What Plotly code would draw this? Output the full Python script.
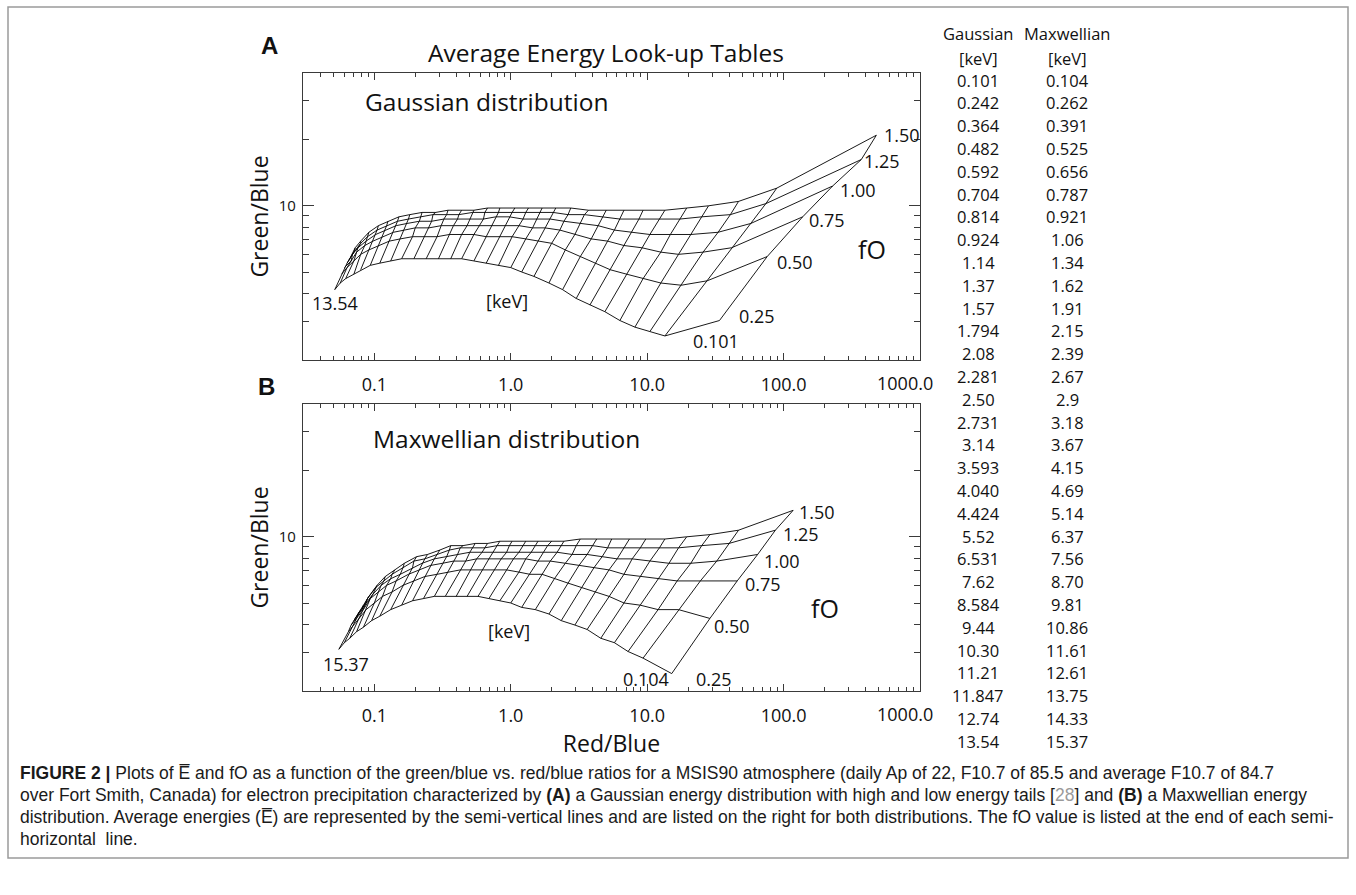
import numpy as np
import plotly.graph_objects as go

W, H = 1356, 895
FONT = "Open Sans"

# ---------------- data ----------------
fO_labels = ["0.25", "0.50", "0.75", "1.00", "1.25", "1.50"]

gauss_keV = ["0.101", "0.242", "0.364", "0.482", "0.592", "0.704", "0.814", "0.924", "1.14", "1.37",
             "1.57", "1.794", "2.08", "2.281", "2.50", "2.731", "3.14", "3.593", "4.040", "4.424",
             "5.52", "6.531", "7.62", "8.584", "9.44", "10.30", "11.21", "11.847", "12.74", "13.54"]
maxw_keV = ["0.104", "0.262", "0.391", "0.525", "0.656", "0.787", "0.921", "1.06", "1.34", "1.62",
            "1.91", "2.15", "2.39", "2.67", "2.9", "3.18", "3.67", "4.15", "4.69", "5.14",
            "6.37", "7.56", "8.70", "9.81", "10.86", "11.61", "12.61", "13.75", "14.33", "15.37"]

x_tick_vals = [0.1, 1, 10, 100, 1000]
x_tick_text = ["0.1", "1.0", "10.0", "100.0", "1000.0"]

# Mesh nodes: log10(Red/Blue) and log10(Green/Blue) along each fO curve,
# ordered from the highest average energy (left end) to the lowest (right end).
# Panel A: Gaussian distribution
A_lrb_025 = [-1.29, -1.25, -1.21, -1.15, -1.10, -1.03, -0.96, -0.88, -0.80, -0.71, -0.62, -0.53, -0.44, -0.36, -0.27,
             -0.18, -0.09, 0.00, 0.08, 0.17, 0.28, 0.38, 0.48, 0.58, 0.69, 0.80, 0.91, 1.02, 1.13, 1.53]
A_lgb_025 = [0.62, 0.65, 0.67, 0.69, 0.71, 0.73, 0.74, 0.75, 0.76, 0.76, 0.76, 0.76, 0.76, 0.76, 0.75,
             0.74, 0.73, 0.72, 0.70, 0.68, 0.65, 0.62, 0.58, 0.55, 0.52, 0.48, 0.45, 0.43, 0.41, 0.48]
A_lrb_050 = [-1.24, -1.20, -1.15, -1.10, -1.04, -0.97, -0.89, -0.81, -0.72, -0.63, -0.54, -0.45, -0.36, -0.27, -0.18,
             -0.08, 0.01, 0.11, 0.20, 0.30, 0.40, 0.51, 0.62, 0.73, 0.85, 0.97, 1.10, 1.25, 1.44, 1.88]
A_lgb_050 = [0.69, 0.72, 0.75, 0.78, 0.80, 0.82, 0.84, 0.85, 0.86, 0.86, 0.86, 0.87, 0.87, 0.87, 0.86,
             0.86, 0.86, 0.85, 0.84, 0.83, 0.80, 0.77, 0.74, 0.71, 0.69, 0.67, 0.65, 0.64, 0.66, 0.77]
A_lrb_075 = [-1.22, -1.17, -1.13, -1.07, -1.01, -0.94, -0.86, -0.78, -0.70, -0.60, -0.51, -0.42, -0.32, -0.23, -0.14,
             -0.04, 0.06, 0.16, 0.25, 0.36, 0.47, 0.59, 0.71, 0.83, 0.96, 1.10, 1.23, 1.41, 1.62, 2.14]
A_lgb_075 = [0.72, 0.75, 0.79, 0.82, 0.84, 0.86, 0.88, 0.89, 0.90, 0.90, 0.91, 0.91, 0.91, 0.91, 0.91,
             0.91, 0.91, 0.90, 0.90, 0.89, 0.87, 0.85, 0.84, 0.82, 0.81, 0.79, 0.78, 0.79, 0.81, 0.95]
A_lrb_100 = [-1.20, -1.16, -1.12, -1.06, -0.99, -0.92, -0.84, -0.76, -0.67, -0.58, -0.49, -0.39, -0.30, -0.20, -0.11,
             -0.01, 0.09, 0.19, 0.29, 0.39, 0.51, 0.64, 0.76, 0.89, 1.02, 1.17, 1.32, 1.52, 1.76, 2.36]
A_lgb_100 = [0.74, 0.78, 0.81, 0.84, 0.87, 0.89, 0.91, 0.92, 0.93, 0.93, 0.94, 0.94, 0.94, 0.94, 0.95,
             0.95, 0.94, 0.94, 0.94, 0.93, 0.92, 0.91, 0.89, 0.88, 0.87, 0.87, 0.87, 0.88, 0.92, 1.09]
A_lrb_125 = [-1.19, -1.15, -1.10, -1.05, -0.98, -0.91, -0.83, -0.75, -0.66, -0.57, -0.47, -0.38, -0.28, -0.19, -0.09,
             0.01, 0.11, 0.21, 0.31, 0.42, 0.54, 0.67, 0.80, 0.94, 1.09, 1.24, 1.40, 1.61, 1.87, 2.57]
A_lgb_125 = [0.75, 0.79, 0.83, 0.86, 0.89, 0.91, 0.93, 0.94, 0.95, 0.96, 0.96, 0.96, 0.97, 0.97, 0.97,
             0.97, 0.97, 0.97, 0.97, 0.96, 0.96, 0.95, 0.94, 0.94, 0.94, 0.94, 0.95, 0.96, 1.01, 1.21]
A_lrb_150 = [-1.18, -1.14, -1.10, -1.04, -0.97, -0.90, -0.82, -0.74, -0.65, -0.55, -0.46, -0.36, -0.27, -0.17, -0.08,
             0.03, 0.13, 0.23, 0.33, 0.44, 0.57, 0.70, 0.83, 0.97, 1.13, 1.29, 1.45, 1.67, 1.95, 2.68]
A_lgb_150 = [0.76, 0.81, 0.84, 0.88, 0.91, 0.93, 0.95, 0.96, 0.97, 0.97, 0.98, 0.98, 0.98, 0.99, 0.99,
             0.99, 0.99, 0.99, 0.99, 0.99, 0.98, 0.98, 0.98, 0.98, 0.98, 0.99, 1.00, 1.02, 1.08, 1.32]

# Panel B: Maxwellian distribution
B_lrb_025 = [-1.26, -1.22, -1.18, -1.13, -1.08, -1.02, -0.96, -0.88, -0.80, -0.72, -0.64, -0.56, -0.48, -0.40, -0.32,
             -0.24, -0.16, -0.08, 0.00, 0.08, 0.18, 0.28, 0.37, 0.47, 0.56, 0.66, 0.76, 0.86, 0.97, 1.18]
B_lgb_025 = [0.49, 0.52, 0.54, 0.57, 0.59, 0.62, 0.64, 0.67, 0.69, 0.71, 0.72, 0.73, 0.73, 0.73, 0.73,
             0.73, 0.72, 0.71, 0.70, 0.68, 0.67, 0.65, 0.62, 0.60, 0.58, 0.54, 0.52, 0.48, 0.45, 0.38]
B_lrb_050 = [-1.19, -1.15, -1.11, -1.06, -1.00, -0.94, -0.87, -0.79, -0.71, -0.63, -0.54, -0.46, -0.37, -0.29, -0.21,
             -0.12, -0.03, 0.06, 0.14, 0.23, 0.32, 0.42, 0.52, 0.62, 0.72, 0.83, 0.95, 1.08, 1.23, 1.46]
B_lgb_050 = [0.57, 0.60, 0.63, 0.67, 0.70, 0.73, 0.75, 0.78, 0.80, 0.82, 0.83, 0.84, 0.85, 0.85, 0.85,
             0.85, 0.85, 0.84, 0.83, 0.83, 0.81, 0.79, 0.77, 0.75, 0.73, 0.70, 0.69, 0.67, 0.67, 0.63]
B_lrb_075 = [-1.17, -1.13, -1.08, -1.03, -0.97, -0.91, -0.84, -0.75, -0.67, -0.59, -0.50, -0.42, -0.33, -0.25, -0.16,
             -0.07, 0.02, 0.11, 0.20, 0.29, 0.40, 0.50, 0.61, 0.72, 0.83, 0.95, 1.08, 1.22, 1.39, 1.66]
B_lgb_075 = [0.60, 0.63, 0.67, 0.72, 0.75, 0.78, 0.80, 0.83, 0.85, 0.87, 0.88, 0.89, 0.89, 0.90, 0.90,
             0.90, 0.90, 0.90, 0.89, 0.89, 0.88, 0.87, 0.86, 0.85, 0.83, 0.82, 0.81, 0.80, 0.80, 0.80]
B_lrb_100 = [-1.15, -1.11, -1.06, -1.01, -0.95, -0.88, -0.81, -0.72, -0.65, -0.56, -0.47, -0.39, -0.30, -0.21, -0.13,
             -0.03, 0.06, 0.15, 0.24, 0.34, 0.45, 0.56, 0.67, 0.78, 0.89, 1.02, 1.16, 1.32, 1.51, 1.81]
B_lgb_100 = [0.62, 0.66, 0.70, 0.74, 0.78, 0.81, 0.83, 0.86, 0.88, 0.90, 0.91, 0.92, 0.93, 0.93, 0.93,
             0.93, 0.93, 0.93, 0.93, 0.93, 0.92, 0.92, 0.91, 0.90, 0.90, 0.89, 0.88, 0.88, 0.89, 0.92]
B_lrb_125 = [-1.14, -1.09, -1.05, -0.99, -0.93, -0.87, -0.79, -0.71, -0.63, -0.54, -0.45, -0.37, -0.28, -0.19, -0.10,
             -0.01, 0.09, 0.18, 0.27, 0.37, 0.48, 0.60, 0.71, 0.83, 0.95, 1.09, 1.23, 1.40, 1.60, 1.94]
B_lgb_125 = [0.63, 0.67, 0.72, 0.77, 0.80, 0.83, 0.86, 0.89, 0.90, 0.92, 0.94, 0.95, 0.95, 0.95, 0.96,
             0.96, 0.96, 0.96, 0.96, 0.96, 0.96, 0.96, 0.95, 0.95, 0.95, 0.95, 0.95, 0.96, 0.97, 1.03]
B_lrb_150 = [-1.13, -1.08, -1.04, -0.98, -0.92, -0.85, -0.78, -0.69, -0.61, -0.52, -0.44, -0.35, -0.26, -0.17, -0.08,
             0.01, 0.11, 0.20, 0.30, 0.39, 0.51, 0.63, 0.74, 0.87, 0.99, 1.13, 1.29, 1.46, 1.67, 2.07]
B_lgb_150 = [0.64, 0.69, 0.73, 0.78, 0.82, 0.85, 0.88, 0.91, 0.92, 0.94, 0.96, 0.96, 0.97, 0.97, 0.98,
             0.98, 0.98, 0.98, 0.98, 0.98, 0.99, 0.99, 0.99, 0.99, 0.99, 0.99, 1.00, 1.01, 1.03, 1.12]

A_lrb = [A_lrb_025, A_lrb_050, A_lrb_075, A_lrb_100, A_lrb_125, A_lrb_150]
A_lgb = [A_lgb_025, A_lgb_050, A_lgb_075, A_lgb_100, A_lgb_125, A_lgb_150]
B_lrb = [B_lrb_025, B_lrb_050, B_lrb_075, B_lrb_100, B_lrb_125, B_lrb_150]
B_lgb = [B_lgb_025, B_lgb_050, B_lgb_075, B_lgb_100, B_lgb_125, B_lgb_150]


# ---------------- figure ----------------
def mesh_trace(lrb, lgb, xa, ya):
    rb = [10 ** np.array(r) for r in lrb]
    gb = [10 ** np.array(g) for g in lgb]
    xs, ys = [], []
    for r, g in zip(rb, gb):              # semi-horizontal lines (constant fO)
        xs += list(r) + [None]
        ys += list(g) + [None]
    for i in range(len(rb[0])):           # semi-vertical lines (constant energy)
        xs += [r[i] for r in rb] + [None]
        ys += [g[i] for g in gb] + [None]
    return go.Scatter(x=xs, y=ys, mode="lines", line=dict(color="black", width=0.9),
                      xaxis=xa, yaxis=ya, hoverinfo="skip", showlegend=False)


fig = go.Figure()
fig.add_trace(mesh_trace(A_lrb, A_lgb, "x", "y"))
fig.add_trace(mesh_trace(B_lrb, B_lgb, "x2", "y2"))

x_minor = [k * 10.0 ** e for e in range(-2, 3) for k in range(2, 10)]
y_minor = [3, 4, 5, 6, 7, 8, 9, 20, 30]
AX = "#3a3a3a"
TICKFONT = dict(family=FONT, size=18, color="#111")
X_STANDOFF = 8

def xaxis_cfg(domain_anchor, title=None):
    # the last major label is drawn separately (shifted left, as in the reference)
    d = dict(type="log", range=[np.log10(0.03), 3], domain=[303 / W, 920 / W], anchor=domain_anchor,
             showline=True, linecolor=AX, linewidth=1.2, mirror="allticks",
             ticks="inside", ticklen=7, tickwidth=1, tickcolor=AX,
             tickvals=x_tick_vals, ticktext=x_tick_text[:-1] + [""],
             tickfont=TICKFONT, ticklabelstandoff=X_STANDOFF,
             minor=dict(ticks="inside", ticklen=4, tickwidth=1, tickcolor=AX, tickvals=x_minor, showgrid=False),
             showgrid=False, zeroline=False, automargin=False)
    if title:
        d["title"] = dict(text=title, font=dict(family=FONT, size=23, color="#111"), standoff=2)
    return d

def yaxis_cfg(domain, anchor):
    return dict(type="log", range=[np.log10(2), np.log10(40)], domain=domain, anchor=anchor,
                showline=True, linecolor=AX, linewidth=1.2, mirror="allticks",
                ticks="inside", ticklen=11, tickwidth=1, tickcolor=AX,
                tickvals=[10], ticktext=["10"],
                tickfont=dict(family=FONT, size=15, color="#111"), ticklabelstandoff=3,
                minor=dict(ticks="inside", ticklen=6, tickwidth=1, tickcolor=AX, tickvals=y_minor, showgrid=False),
                title=dict(text="Green/Blue", font=dict(family=FONT, size=23, color="#111"), standoff=3),
                showgrid=False, zeroline=False, automargin=False)

fig.update_layout(
    width=W, height=H, margin=dict(l=0, r=0, t=0, b=0),
    paper_bgcolor="white", plot_bgcolor="white",
    xaxis=xaxis_cfg("y"),
    yaxis=yaxis_cfg([1 - 360 / H, 1 - 73 / H], "x"),
    xaxis2=xaxis_cfg("y2", "Red/Blue"),
    yaxis2=yaxis_cfg([1 - 691 / H, 1 - 404 / H], "x2"),
    title=dict(text="Average Energy Look-up Tables", x=606 / W, y=1 - 53 / H, xanchor="center", yanchor="middle",
               font=dict(family=FONT, size=24.5, color="#111")),
    showlegend=False,
)

ann = []
def A_(text, x, y, xref="paper", yref="paper", size=18, xanchor="center", yanchor="middle", xshift=0, yshift=0,
       family=FONT, color="#111"):
    ann.append(dict(text=text, x=x, y=y, xref=xref, yref=yref, showarrow=False, xanchor=xanchor, yanchor=yanchor,
                    xshift=xshift, yshift=yshift, font=dict(family=family, size=size, color=color)))

# last x tick label of each panel, at the 1000 tick but nudged left
A_(x_tick_text[-1], np.log10(x_tick_vals[-1]), 0, "x", "y domain", size=18, yanchor="top", xshift=-15, yshift=-X_STANDOFF - 1)
A_(x_tick_text[-1], np.log10(x_tick_vals[-1]), 0, "x2", "y2 domain", size=18, yanchor="top", xshift=-15, yshift=-X_STANDOFF - 1)

# panel letters and panel texts
A_("<b>A</b>", 269 / W, 1 - 45 / H, size=24, family="Liberation Sans")
A_("<b>B</b>", 266 / W, 1 - 387 / H, size=24, family="Liberation Sans")
A_("Gaussian distribution", 363 / W, 1 - 102 / H, size=24.5, xanchor="left")
A_("Maxwellian distribution", 371 / W, 1 - 438 / H, size=24.5, xanchor="left")

# labels on mesh (positioned at data nodes)
A_("[keV]", -0.026, 0.570, "x", "y")
A_("[keV]", -0.011, 0.575, "x2", "y2")
A_("fO", 2.648, 0.805, "x", "y", size=25)
A_("fO", 2.304, 0.679, "x2", "y2", size=25)
A_(gauss_keV[-1], A_lrb_025[0], A_lgb_025[0], "x", "y", yshift=-13)
A_(maxw_keV[-1], B_lrb_025[0], B_lgb_025[0], "x2", "y2", xshift=7, yshift=-15)
A_(gauss_keV[0], A_lrb_025[-1], A_lgb_025[-1], "x", "y", xshift=-3, yshift=-20)
A_(maxw_keV[0], B_lrb_025[-1], B_lgb_025[-1], "x2", "y2", xanchor="right", xshift=-1, yshift=-5)

A_off = [(18, 5), (8, -5), (4, -3), (5, -4), (1, -2), (6, 0)]
B_off = [(22, -5), (2, -8), (6, -3), (4, -7), (6, -4), (4, -2)]
for j, lab in enumerate(fO_labels):
    A_(lab, A_lrb[j][-1], A_lgb[j][-1], "x", "y", xanchor="left", xshift=A_off[j][0], yshift=A_off[j][1])
    A_(lab, B_lrb[j][-1], B_lgb[j][-1], "x2", "y2", xanchor="left", xshift=B_off[j][0], yshift=B_off[j][1])

# table of average energies
col_g, col_m = 978 / W, 1067 / W
A_("Gaussian", col_g, 1 - 33 / H, size=16.5)
A_("Maxwellian", col_m, 1 - 33 / H, size=16.5)
A_("[keV]", col_g, 1 - 58 / H, size=16.5)
A_("[keV]", col_m, 1 - 58 / H, size=16.5)
for i, (g, m) in enumerate(zip(gauss_keV, maxw_keV)):
    yy = 1 - (80 + i * 22.8) / H
    A_(g, col_g, yy, size=16.5)
    A_(m, col_m, yy, size=16.5)

# caption
cap = [
    "<b>FIGURE 2 |</b> Plots of E\u0305 and fO as a function of the green/blue vs. red/blue ratios for a MSIS90 atmosphere (daily Ap of 22, F10.7 of 85.5 and average F10.7 of 84.7",
    "over Fort Smith, Canada) for electron precipitation characterized by <b>(A)</b> a Gaussian energy distribution with high and low energy tails [<span style='color:#9a9a9a'>28</span>] and <b>(B)</b> a Maxwellian energy",
    "distribution. Average energies (E\u0305) are represented by the semi-vertical lines and are listed on the right for both distributions. The fO value is listed at the end of each semi-",
    "horizontal  line.",
]
for k, line in enumerate(cap):
    A_(line, 18 / W, 1 - (773 + 22 * k) / H, size=17.5, xanchor="left", family="Liberation Sans", color="#1a1a1a")

fig.update_layout(annotations=ann)
fig.add_shape(type="rect", xref="paper", yref="paper", x0=8 / W, x1=1348 / W, y0=1 - 858 / H, y1=1 - 7 / H,
              line=dict(color="#9a9a9a", width=1.5), fillcolor="rgba(0,0,0,0)", layer="below")

fig.write_html("out.html")
